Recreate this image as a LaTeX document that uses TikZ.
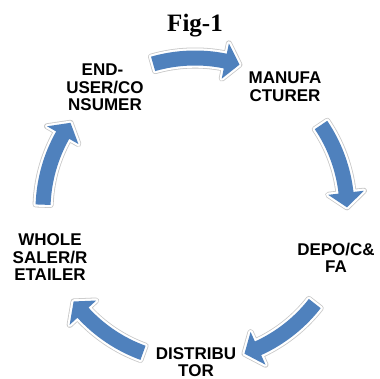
\documentclass[tikz,border=0pt]{standalone}
\usepackage{fontspec}
\setmainfont{Liberation Sans}
\newfontfamily\titlefont{Liberation Serif}
\definecolor{arrowblue}{RGB}{79,129,189}
\definecolor{haloline}{RGB}{200,200,200}
\tikzset{
  lbl/.style={align=center, inner sep=0pt, font=\fontsize{17}{17.5}\selectfont\bfseries},
  halo/.style={draw=haloline, line width=6pt, line join=round},
  haloin/.style={draw=white, line width=4.4pt, line join=round},
  body/.style={fill=arrowblue},
}
\newcommand{\arrowshape}{%
  (\aA:159.5) arc[start angle=\aA, end angle=\aH, radius=159.5] -- (\aH:170) -- (\aT:152) -- (\aH:134) -- (\aH:144.5) arc[start angle=\aH, end angle=\aA, radius=144.5] -- cycle
}
\begin{document}
\begin{tikzpicture}[x=1pt,y=1pt]
\useasboundingbox (0,0) rectangle (380,379);
\fill[white] (0,0) rectangle (380,379);
\coordinate (hub) at (195,169);
\begin{scope}[shift={(hub)}]
  \foreach \m in {90,18,-54,-126,-198}{
    \pgfmathsetmacro{\aA}{\m+16}
    \pgfmathsetmacro{\aT}{\m-17}
    \pgfmathsetmacro{\aH}{\m-11.5}
    \path[halo] \arrowshape;
    \path[haloin] \arrowshape;
    \path[body] \arrowshape;
  }
\end{scope}
\node[anchor=base, inner sep=0pt, font=\titlefont\fontsize{25}{26}\selectfont\bfseries] (title) at (195,347) {Fig-1};
\node[lbl] (enduser) at (105,291.5) {END-\hspace*{5pt}\\USER/CO\\NSUMER};
\node[lbl] (manu) at (285,292.5) {MANUFA\\CTURER};
\node[lbl] (depo) at (336,121) {DEPO/C\&\\FA};
\node[lbl] (whole) at (50,121.5) {WHOLE\\SALER/R\\ETAILER};
\node[lbl] (distr) at (196,17) {DISTRIBU\\TOR};
\end{tikzpicture}
\end{document}
